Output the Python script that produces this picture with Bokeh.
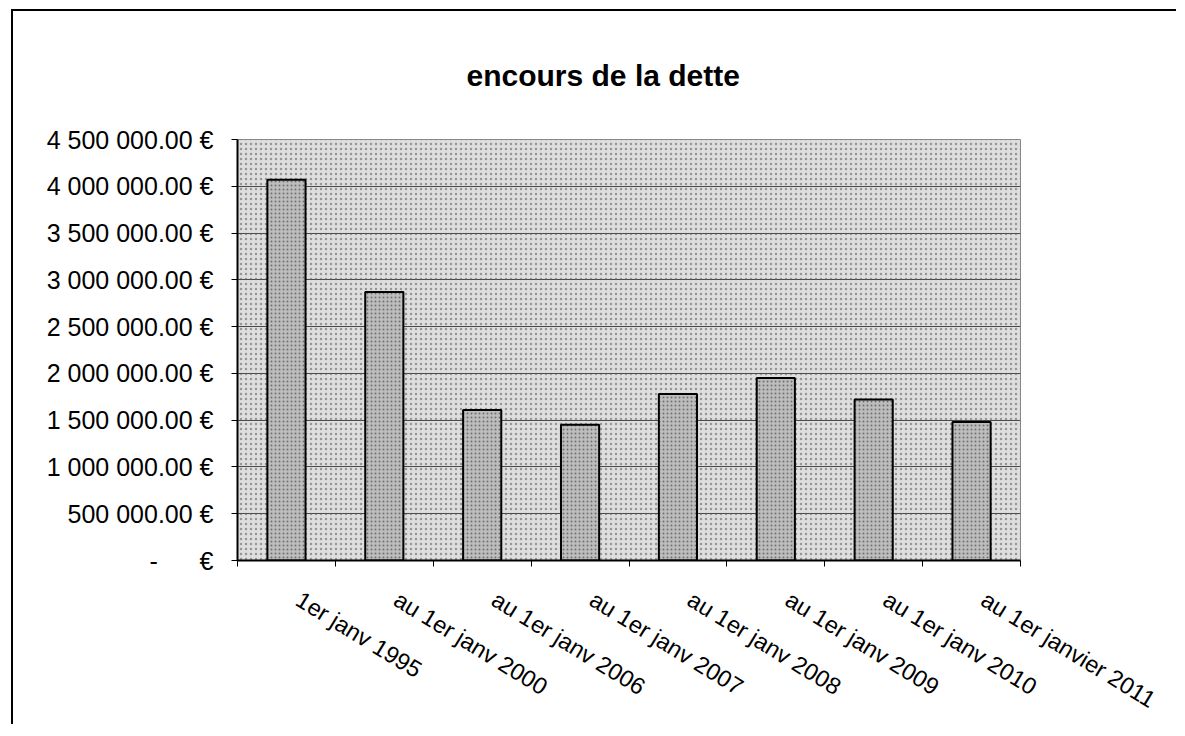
from bokeh.plotting import figure
from bokeh.models import (Range1d, LinearAxis, FixedTicker, BoxAnnotation, Title,
                          CustomJSTickFormatter, ColumnDataSource)
from bokeh.embed import file_html
from bokeh.resources import INLINE

# ---- data ----
categories = ["1er janv 1995", "au 1er janv 2000", "au 1er janv 2006", "au 1er janv 2007",
              "au 1er janv 2008", "au 1er janv 2009", "au 1er janv 2010", "au 1er janvier 2011"]
encours = [4070000, 2870000, 1610000, 1450000, 1780000, 1950000, 1720000, 1480000]
y_ticks = [0, 500000, 1000000, 1500000, 2000000, 2500000, 3000000, 3500000, 4000000, 4500000]
title_text = "encours de la dette"

FONT = "Liberation Sans"
n = len(categories)
centers = [i + 0.5 for i in range(n)]
label_anchor = [c + 0.12 for c in centers]

p = figure(width=1165, height=715, output_backend="svg", toolbar_location=None,
           x_range=Range1d(0, n), y_range=Range1d(0, 4500000),
           x_axis_location=None, y_axis_location=None,
           min_border_left=224, min_border_right=158, min_border_top=128, min_border_bottom=163)
p.styles = {"border-top": "2px solid black", "border-left": "2px solid black",
            "margin-left": "11px", "margin-top": "9px"}

p.title = Title(text=title_text, align="left", offset=229, text_font=FONT,
                text_font_size="30px", text_font_style="bold", text_color="black",
                vertical_align="top", standoff=92)

p.background_fill_color = "#dedede"
p.border_fill_color = "white"
p.outline_line_color = "#8a8a8a"
p.outline_line_width = 1

# stipple-like texture over the plot area
p.add_layout(BoxAnnotation(fill_color=None, line_color=None, hatch_pattern=".",
                           hatch_color="#5a5a5a", hatch_alpha=0.55, hatch_scale=5,
                           level="underlay"))

src = ColumnDataSource(dict(x=centers, cat=categories, val=encours))
p.vbar(x="x", top="val", width=0.39, source=src, fill_color="#bdbdbd",
       hatch_pattern=".", hatch_color="#3a3a3a", hatch_alpha=0.6, hatch_scale=4,
       line_color="black", line_width=2)

# y axis
yaxis = LinearAxis(ticker=FixedTicker(ticks=y_ticks))
yaxis.formatter = CustomJSTickFormatter(code="""
const v = Math.round(tick);
if (v === 0) { return "-\\u00a0\\u00a0\\u00a0\\u00a0\\u00a0\\u00a0\\u20ac"; }
const s = v.toString().replace(/\\B(?=(\\d{3})+(?!\\d))/g, " ");
return s + ".00 \\u20ac";
""")
yaxis.major_label_text_font = FONT
yaxis.major_label_text_font_size = "25px"
yaxis.major_label_text_color = "black"
yaxis.major_label_standoff = 18
yaxis.major_tick_out = 6
yaxis.major_tick_in = 0
yaxis.minor_tick_line_color = None
yaxis.axis_line_color = "black"
yaxis.axis_line_width = 2
yaxis.major_tick_line_color = "black"
p.add_layout(yaxis, "left")

# x tick-mark axis at category boundaries
tick_axis = LinearAxis(ticker=FixedTicker(ticks=list(range(n + 1))))
tick_axis.formatter = CustomJSTickFormatter(code="return '';")
tick_axis.major_label_text_font_size = "1px"
tick_axis.major_label_standoff = 0
tick_axis.major_tick_out = 6
tick_axis.major_tick_in = 0
tick_axis.minor_tick_line_color = None
tick_axis.axis_line_color = "black"
tick_axis.axis_line_width = 2
tick_axis.major_tick_line_color = "black"
p.add_layout(tick_axis, "below")

# category labels
cat_axis = LinearAxis(ticker=FixedTicker(ticks=label_anchor))
cat_axis.major_label_overrides = {a: lab for a, lab in zip(label_anchor, categories)}
cat_axis.major_label_orientation = -0.55
cat_axis.major_label_text_font = FONT
cat_axis.major_label_text_font_size = "23.5px"
cat_axis.major_label_text_color = "black"
cat_axis.major_label_standoff = 25
cat_axis.major_tick_line_color = None
cat_axis.minor_tick_line_color = None
cat_axis.axis_line_color = None
p.add_layout(cat_axis, "below")

p.xgrid.grid_line_color = None
p.ygrid.grid_line_color = "#4a4a4a"
p.ygrid.grid_line_width = 1
p.ygrid.ticker = FixedTicker(ticks=y_ticks)

open("out.html", "w").write(file_html(p, INLINE))
